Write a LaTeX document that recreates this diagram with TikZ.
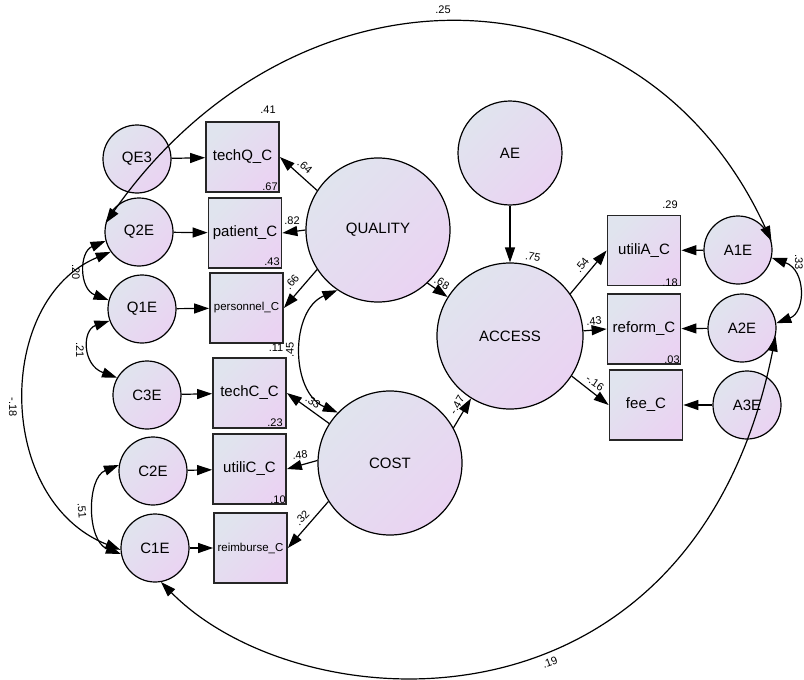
\documentclass[tikz,border=0pt]{standalone}
\usepackage{fontspec}
\setmainfont{Liberation Sans}
\usetikzlibrary{arrows.meta}
\definecolor{fillA}{RGB}{224,228,238}
\definecolor{fillB}{RGB}{234,211,242}
\begin{document}
\begin{tikzpicture}[x=1pt,y=-1pt,
  lat/.style={circle, draw=black, line width=1.2pt, top color=fillA, bottom color=fillB, shading angle=45, inner sep=0pt, font=\fontsize{15}{17}\selectfont},
  err/.style={lat, minimum size=68pt},
  obs/.style={rectangle, draw=black!85, line width=1.8pt, top color=fillA, bottom color=fillB, shading angle=45, minimum width=73pt, minimum height=70pt, inner sep=0pt, font=\fontsize{15}{17}\selectfont},
  smalltext/.style={font=\fontsize{11.5}{13}\selectfont},
  reg/.style={line width=1.2pt, -{Triangle[length=15pt,width=10pt]}},
  covar/.style={line width=1.2pt, {Triangle[length=15pt,width=10pt]}-{Triangle[length=15pt,width=10pt]}},
  lbl/.style={font=\fontsize{11}{12}\selectfont, inner sep=0pt}
]
\useasboundingbox (0,0) rectangle (804,680);

% error terms
\node[err] (QE3) at (137,159) {QE3};
\node[err] (Q2E) at (139,232) {Q2E};
\node[err] (Q1E) at (142,309) {Q1E};
\node[err] (C3E) at (147,395) {C3E};
\node[err] (C2E) at (153,471) {C2E};
\node[err] (C1E) at (155,548) {C1E};
% observed
\node[obs] (techQ) at (242.5,157) {techQ\_C};
\node[obs] (patient) at (245,233) {patient\_C};
\node[obs,smalltext] (personnel) at (246.5,308) {personnel\_C};
\node[obs] (techC) at (249.5,393) {techC\_C};
\node[obs] (utiliC) at (249.5,469) {utiliC\_C};
\node[obs,smalltext] (reimburse) at (250.5,548) {reimburse\_C};
% latent
\node[lat,minimum size=144pt] (QUALITY) at (378,230) {QUALITY};
\node[lat,minimum size=144pt] (COST) at (390,463) {COST};
\node[lat,minimum size=146pt] (ACCESS) at (510,336) {ACCESS};
\node[lat,minimum size=104pt] (AE) at (510,153) {AE};
% right side
\node[obs] (utiliA) at (644,250.5) {utiliA\_C};
\node[obs] (reform) at (644,329) {reform\_C};
\node[obs] (fee) at (646,405) {fee\_C};
\node[err] (A1E) at (738,250) {A1E};
\node[err] (A2E) at (742,328) {A2E};
\node[err] (A3E) at (747,405) {A3E};

% regression paths
\draw[reg] (QE3) -- (techQ);
\draw[reg] (Q2E) -- (patient);
\draw[reg] (Q1E) -- (personnel);
\draw[reg] (C3E) -- (techC);
\draw[reg] (C2E) -- (utiliC);
\draw[reg] (C1E) -- (reimburse);
\draw[reg] (QUALITY.147) -- (techQ.east);
\draw[reg] (QUALITY.180) -- (patient.east);
\draw[reg] (QUALITY.213) -- (personnel.east);
\draw[reg] (COST.147) -- (techC.east);
\draw[reg] (COST.178) -- (utiliC.east);
\draw[reg] (COST.212) -- (reimburse.east);
\draw[reg] (QUALITY.-47) -- (ACCESS.148);
\draw[reg] (COST.29) -- (ACCESS.238);
\draw[reg] (AE) -- (ACCESS);
\draw[reg] (ACCESS.35) -- (utiliA.west);
\draw[reg] (ACCESS.4) -- (reform.west);
\draw[reg] (ACCESS.-33) -- (fee.west);
\draw[reg] (A1E) -- (utiliA);
\draw[reg] (A2E) -- (reform);
\draw[reg] (A3E) -- (fee);

% covariances
\draw[covar] (QUALITY.236) .. controls (290,310) and (290,392) .. (COST.136);
\draw[covar] (Q2E.195) .. controls (79,252) and (79,289) .. (Q1E.165);
\draw[covar] (Q1E.200) .. controls (82,330) and (82,365) .. (C3E.150);
\draw[covar] (C2E.170) .. controls (86.5,478) and (86.5,541) .. (C1E.190);
\draw[covar] (Q2E.215) .. controls (-5,300) and (-5,500) .. (C1E.183);
\draw[covar] (A1E.-13) .. controls (806,270) and (806,312) .. (A2E.8);
\draw[covar] (Q2E.165) .. controls (295,-47) and (640,-45) .. (A1E.15);
\draw[covar] (C1E.-80) .. controls (301,724) and (693,749) .. (A2E.-14);

% squared multiple correlations
\node[lbl] (r1) at (268,110) {.41};
\node[lbl] (r2) at (270,187) {.67};
\node[lbl] (r3) at (272,262) {.43};
\node[lbl] (r4) at (276,348) {.11};
\node[lbl] (r5) at (275,423) {.23};
\node[lbl] (r6) at (278,500) {.10};
\node[lbl] (r7) at (670,205) {.29};
\node[lbl] (r8) at (670,283) {.18};
\node[lbl] (r9) at (672,360) {.03};
\node[lbl,rotate=-12] (r10) at (533,257) {.75};
% path labels
\node[lbl,rotate=-41] (p1) at (305,167) {.64};
\node[lbl] (p2) at (292,221) {.82};
\node[lbl,rotate=50] (p3) at (292,282) {.66};
\node[lbl,rotate=90] (p4) at (290,350) {.45};
\node[lbl,rotate=-36] (p5) at (313,402) {.33};
\node[lbl,rotate=7] (p6) at (300,455) {.48};
\node[lbl,rotate=46] (p7) at (302,518) {.32};
\node[lbl,rotate=-30] (p8) at (442,283) {.68};
\node[lbl,rotate=60] (p9) at (457,405) {-.47};
\node[lbl,rotate=51] (p10) at (582,265) {.54};
\node[lbl,rotate=5] (p11) at (594,321) {.43};
\node[lbl,rotate=-34] (p12) at (595,383) {-.16};
% covariance labels
\node[lbl,rotate=-90] (c1) at (76,272) {.20};
\node[lbl,rotate=-90] (c2) at (80,350) {.21};
\node[lbl,rotate=-85] (c3) at (82,511) {.51};
\node[lbl,rotate=-90] (c4) at (13,407) {-.18};
\node[lbl] (c5) at (443,10) {.25};
\node[lbl,rotate=20] (c6) at (550,662) {.19};
\node[lbl,rotate=-90] (c7) at (799,262) {.33};
\end{tikzpicture}
\end{document}
